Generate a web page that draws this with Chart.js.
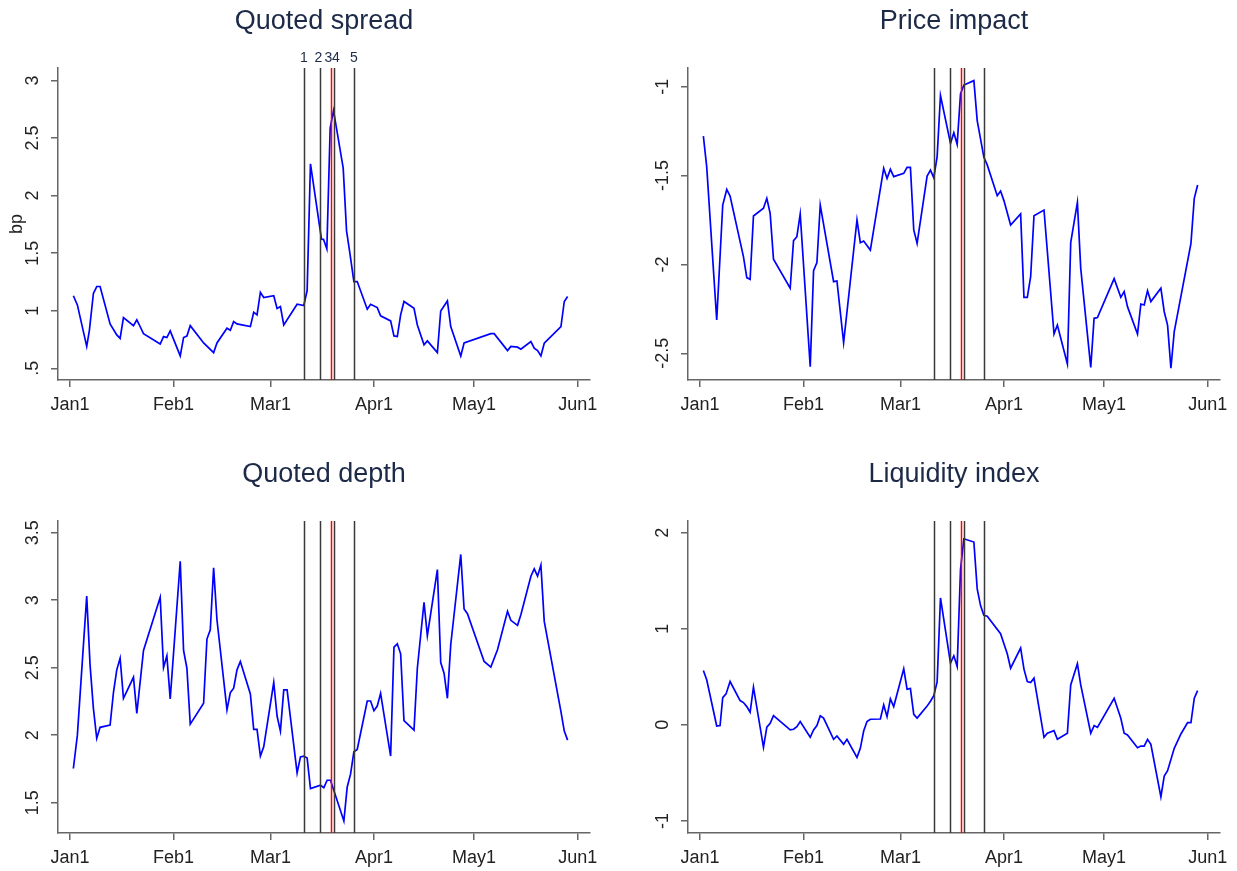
<!DOCTYPE html>
<html>
<head>
<meta charset="utf-8">
<script src="https://cdn.jsdelivr.net/npm/chart.js@4.4.1/dist/chart.umd.min.js"></script>
<style>
  html, body { margin: 0; padding: 0; background: #ffffff; }
  #wrap { position: relative; width: 1237px; height: 871px; overflow: hidden; background: #fff; }
  .panel { position: absolute; }
</style>
</head>
<body>
<div id="wrap">
  <div class="panel" style="left:0px;top:0px;width:618px;height:453px;"><canvas id="c1"></canvas></div>
  <div class="panel" style="left:630px;top:0px;width:607px;height:453px;"><canvas id="c2"></canvas></div>
  <div class="panel" style="left:0px;top:453px;width:618px;height:418px;"><canvas id="c3"></canvas></div>
  <div class="panel" style="left:630px;top:453px;width:607px;height:418px;"><canvas id="c4"></canvas></div>
</div>
<script>
// ---------- DATA (day 0 = Jan 1, 2020) ----------
const tickDays = [0, 31, 60, 91, 121, 152];
const tickLabels = ['Jan1', 'Feb1', 'Mar1', 'Apr1', 'May1', 'Jun1'];

const eventDays = [70, 75, 78, 79, 85];
const eventLabels = ['1', '2', '3', '4', '5'];

const spreadTicks = [0.5, 1, 1.5, 2, 2.5, 3];
const spreadTickLabels = ['.5', '1', '1.5', '2', '2.5', '3'];
const spreadDays = [1, 2.2, 5, 5.8, 7, 8, 9, 12, 14, 15, 16, 19, 20, 20.7, 22, 27, 28, 29, 30, 33, 34, 35, 36, 40, 43, 44, 47, 48, 49, 50, 54, 55, 56, 57, 58, 61, 62, 63, 64, 68, 70, 71, 72, 75.3, 75.9, 76.9, 77.9, 78.9, 81.8, 82.8, 83.8, 85, 86, 89, 90, 92, 93, 96, 97, 98, 99, 100, 103, 104, 106, 107, 110, 111, 113, 114, 117, 118, 126, 127, 131, 132, 134, 135, 138, 139, 140, 141, 142, 147, 148, 149];
const spreadVals = [1.13, 1.05, 0.69, 0.83, 1.15, 1.21, 1.21, 0.885, 0.79, 0.76, 0.94, 0.87, 0.92, 0.88, 0.80, 0.71, 0.775, 0.767, 0.825, 0.607, 0.767, 0.78, 0.87, 0.72, 0.636, 0.72, 0.848, 0.83, 0.905, 0.885, 0.862, 0.987, 0.964, 1.16, 1.114, 1.13, 1.02, 1.036, 0.876, 1.056, 1.045, 1.175, 2.276, 1.621, 1.62, 1.537, 2.586, 2.739, 2.238, 1.693, 1.50, 1.253, 1.253, 1.013, 1.056, 1.027, 0.955, 0.911, 0.781, 0.775, 0.964, 1.08, 1.021, 0.876, 0.703, 0.738, 0.636, 0.998, 1.085, 0.862, 0.607, 0.72, 0.80, 0.80, 0.653, 0.69, 0.683, 0.665, 0.732, 0.674, 0.653, 0.607, 0.717, 0.862, 1.08, 1.123];

const impactTicks = [-2.5, -2, -1.5, -1];
const impactTickLabels = ['-2.5', '-2', '-1.5', '-1'];
const impactDays = [1, 2, 5, 6.8, 8, 9, 13, 14, 15, 16, 19, 20, 21, 22, 27, 28, 29, 30, 33, 34, 35, 36, 40, 41, 43, 47, 48, 49, 51, 55, 56, 57, 58, 61, 62, 63, 64, 65, 68, 69, 70, 71, 72, 75, 76, 77, 78, 79, 82, 83, 85, 86, 89, 90, 91, 93, 96, 97, 98, 99, 100, 103, 106, 107, 110, 111, 113, 114, 117, 118, 119, 124, 126, 127, 128, 131, 132, 133, 134, 135, 138, 139, 140, 141, 142, 147, 148, 149];
const impactVals = [-1.278, -1.45, -2.3125, -1.666, -1.578, -1.615, -1.956, -2.074, -2.084, -1.7275, -1.684, -1.628, -1.7125, -1.971, -2.134, -1.866, -1.844, -1.716, -2.575, -2.035, -1.99, -1.666, -2.097, -2.093, -2.44, -1.75, -1.8775, -1.868, -1.919, -1.459, -1.516, -1.465, -1.506, -1.4875, -1.454, -1.454, -1.806, -1.881, -1.503, -1.469, -1.512, -1.394, -1.05, -1.319, -1.259, -1.324, -1.041, -0.991, -0.966, -1.191, -1.3975, -1.44, -1.613, -1.587, -1.641, -1.778, -1.716, -2.185, -2.185, -2.069, -1.726, -1.694, -2.391, -2.341, -2.56, -1.8775, -1.651, -2.022, -2.579, -2.303, -2.299, -2.08, -2.185, -2.153, -2.2375, -2.391, -2.2225, -2.228, -2.1475, -2.209, -2.134, -2.266, -2.341, -2.584, -2.378, -1.881, -1.628, -1.553];

const depthTicks = [1.5, 2, 2.5, 3, 3.5];
const depthTickLabels = ['1.5', '2', '2.5', '3', '3.5'];
const depthDays = [1, 2.2, 5, 6, 7, 8, 9, 12, 13, 14, 15, 16, 19, 20, 22, 27, 28, 29, 30, 33, 34, 35, 36, 40, 41, 42, 43, 44, 47, 48, 49, 50, 51, 54, 55, 56, 57, 58, 61, 62, 63, 64, 65, 68, 69, 70, 71, 72, 75, 76, 77, 78, 82, 83, 84, 85, 86, 89, 90, 91, 92, 93, 96, 97, 98, 99, 100, 103, 104, 106, 107, 110, 111, 112, 113, 114, 117, 118, 119, 124, 126, 128, 131, 132, 134, 135, 138, 139, 140, 141, 142, 147, 148, 149];
const depthVals = [1.753, 2.0, 3.03, 2.521, 2.199, 1.976, 2.058, 2.075, 2.315, 2.484, 2.571, 2.273, 2.429, 2.162, 2.628, 3.022, 2.501, 2.588, 2.268, 3.289, 2.628, 2.496, 2.082, 2.236, 2.712, 2.781, 3.24, 2.855, 2.187, 2.315, 2.348, 2.484, 2.546, 2.305, 2.043, 2.043, 1.845, 1.914, 2.39, 2.142, 2.03, 2.335, 2.335, 1.72, 1.839, 1.845, 1.83, 1.604, 1.629, 1.611, 1.666, 1.666, 1.364, 1.616, 1.711, 1.877, 1.894, 2.253, 2.253, 2.181, 2.216, 2.31, 1.845, 2.652, 2.677, 2.603, 2.107, 2.038, 2.496, 2.985, 2.737, 3.227, 2.538, 2.459, 2.273, 2.67, 3.339, 2.935, 2.9, 2.546, 2.504, 2.633, 2.918, 2.851, 2.814, 2.893, 3.178, 3.232, 3.178, 3.26, 2.843, 2.174, 2.03, 1.963];

const liqTicks = [-1, 0, 1, 2];
const liqTickLabels = ['-1', '0', '1', '2'];
const liqDays = [1, 2, 5, 6, 6.8, 7.8, 9, 12, 13, 14, 15, 16, 19, 20, 21, 22, 27, 28, 29, 30, 33, 34, 35, 36, 37, 40, 41, 43, 44, 47, 48, 49, 50, 51, 54, 55, 56, 57, 58, 61, 62, 63, 64, 65, 68, 69, 70, 71, 72, 75, 76, 77, 78, 79, 82, 83, 84, 85, 86, 90, 91, 92, 93, 96, 97, 98, 99, 100, 103, 104, 106, 107, 110, 111, 113, 114, 117, 118, 119, 124, 126, 127, 128, 131, 132, 133, 134, 135, 138, 139, 140, 142, 144, 146, 147, 148, 149];
const liqVals = [0.566, 0.469, -0.012, -0.008, 0.284, 0.322, 0.451, 0.253, 0.232, 0.19, 0.131, 0.392, -0.235, -0.024, 0.016, 0.096, -0.053, -0.046, -0.019, 0.034, -0.13, -0.053, -0.008, 0.093, 0.07, -0.151, -0.116, -0.203, -0.151, -0.339, -0.245, -0.064, 0.034, 0.058, 0.061, 0.207, 0.085, 0.27, 0.19, 0.583, 0.371, 0.378, 0.11, 0.07, 0.195, 0.246, 0.303, 0.446, 1.321, 0.643, 0.719, 0.608, 1.617, 1.937, 1.903, 1.415, 1.241, 1.14, 1.13, 0.949, 0.844, 0.74, 0.59, 0.799, 0.58, 0.451, 0.441, 0.486, -0.13, -0.088, -0.061, -0.151, -0.088, 0.416, 0.636, 0.416, -0.088, -0.008, -0.026, 0.277, 0.068, -0.088, -0.106, -0.238, -0.221, -0.221, -0.151, -0.203, -0.75, -0.534, -0.478, -0.245, -0.095, 0.023, 0.023, 0.277, 0.357];

// ---------- STYLE ----------
const FONT = "'Liberation Sans', Arial, Helvetica, sans-serif";
const TITLE_COLOR = '#1c2a48';
const TEXT_COLOR = '#222222';
const AXIS_COLOR = '#666666';

const eventLinesPlugin = {
  id: 'eventLines',
  afterDatasetsDraw(chart, args, opts) {
    const {ctx, chartArea} = chart;
    const xs = chart.scales.x;
    ctx.save();
    eventDays.forEach((d, i) => {
      const px = Math.round(xs.getPixelForValue(d)) + 0.5;
      ctx.beginPath();
      ctx.strokeStyle = (i === 2) ? '#ff0000' : '#3a3a3a';
      ctx.lineWidth = 1.5;
      ctx.moveTo(px, chartArea.top);
      ctx.lineTo(px, chartArea.bottom);
      ctx.stroke();
    });
    if (opts && opts.labels) {
      ctx.fillStyle = TITLE_COLOR;
      ctx.font = '14px ' + FONT;
      ctx.textAlign = 'center';
      ctx.textBaseline = 'middle';
      eventDays.forEach((d, i) => {
        const px = xs.getPixelForValue(d);
        let off = 0;
        if (i === 2) off = -2;
        if (i === 3) off = 2;
        if (i === 1) off = -2;
        ctx.fillText(eventLabels[i], px + off, chartArea.top - 10);
      });
    }
    ctx.restore();
  }
};

const panelTitlePlugin = {
  id: 'panelTitle',
  afterDraw(chart, args, opts) {
    const {ctx, chartArea} = chart;
    ctx.save();
    ctx.fillStyle = TITLE_COLOR;
    ctx.font = '27px ' + FONT;
    ctx.textAlign = 'center';
    ctx.textBaseline = 'middle';
    ctx.fillText(opts.text, (chartArea.left + chartArea.right) / 2, 22);
    ctx.restore();
  }
};

function makeChart(id, title, days, vals, ticks, tickLbls, yMin, yMax, padRight, crossPad, yTitle, showLabels, canvasH) {
  const points = days.map((d, i) => ({x: d, y: vals[i]}));
  const xAxisH = canvasH - 380;
  return new Chart(document.getElementById(id), {
    type: 'line',
    data: {
      datasets: [{
        data: points,
        borderColor: '#0000ff',
        borderWidth: 1.7,
        pointRadius: 0,
        tension: 0,
        fill: false
      }]
    },
    options: {
      responsive: true,
      maintainAspectRatio: false,
      animation: false,
      events: [],
      layout: { padding: { left: 0, right: padRight, top: 68, bottom: 0 } },
      plugins: {
        legend: { display: false },
        tooltip: { enabled: false },
        title: { display: false },
        panelTitle: { text: title },
        eventLines: { labels: showLabels }
      },
      scales: {
        x: {
          type: 'linear',
          min: -3.6,
          max: 155.7,
          afterBuildTicks: (s) => { s.ticks = tickDays.map(v => ({value: v})); },
          afterFit: (s) => { s.height = xAxisH; },
          ticks: {
            callback: (v) => { const k = tickDays.indexOf(v); return k >= 0 ? tickLabels[k] : ''; },
            color: TEXT_COLOR,
            font: { family: FONT, size: 18 },
            padding: 7,
            maxRotation: 0,
            minRotation: 0,
            autoSkip: false
          },
          grid: { display: true, drawOnChartArea: false, drawTicks: true, tickLength: 7, color: AXIS_COLOR, lineWidth: 1.5 },
          border: { display: true, color: AXIS_COLOR, width: 1.5 }
        },
        y: {
          type: 'linear',
          min: yMin,
          max: yMax,
          afterBuildTicks: (s) => { s.ticks = ticks.map(v => ({value: v})); },
          afterFit: (s) => { s.width = 58; },
          title: yTitle ? {
            display: true,
            text: yTitle,
            color: TEXT_COLOR,
            font: { family: FONT, size: 18 },
            padding: { top: 6, bottom: 0 }
          } : { display: false },
          ticks: {
            callback: (v) => { const k = ticks.indexOf(v); return k >= 0 ? tickLbls[k] : ''; },
            color: TEXT_COLOR,
            font: { family: FONT, size: 18 },
            minRotation: 90,
            maxRotation: 90,
            crossAlign: 'center',
            padding: crossPad,
            autoSkip: false
          },
          grid: { display: true, drawOnChartArea: false, drawTicks: true, tickLength: 7, color: AXIS_COLOR, lineWidth: 1.5 },
          border: { display: true, color: AXIS_COLOR, width: 1.5 }
        }
      }
    },
    plugins: [eventLinesPlugin, panelTitlePlugin]
  });
}

makeChart('c1', 'Quoted spread', spreadDays, spreadVals, spreadTicks, spreadTickLabels, 0.398, 3.108, 28, 5.5, 'bp', true, 453);
makeChart('c2', 'Price impact', impactDays, impactVals, impactTicks, impactTickLabels, -2.65, -0.895, 17, 2.5, null, false, 453);
makeChart('c3', 'Quoted depth', depthDays, depthVals, depthTicks, depthTickLabels, 1.275, 3.587, 28, 5.5, null, false, 418);
makeChart('c4', 'Liquidity index', liqDays, liqVals, liqTicks, liqTickLabels, -1.126, 2.122, 17, 10, null, false, 418);
</script>
</body>
</html>
